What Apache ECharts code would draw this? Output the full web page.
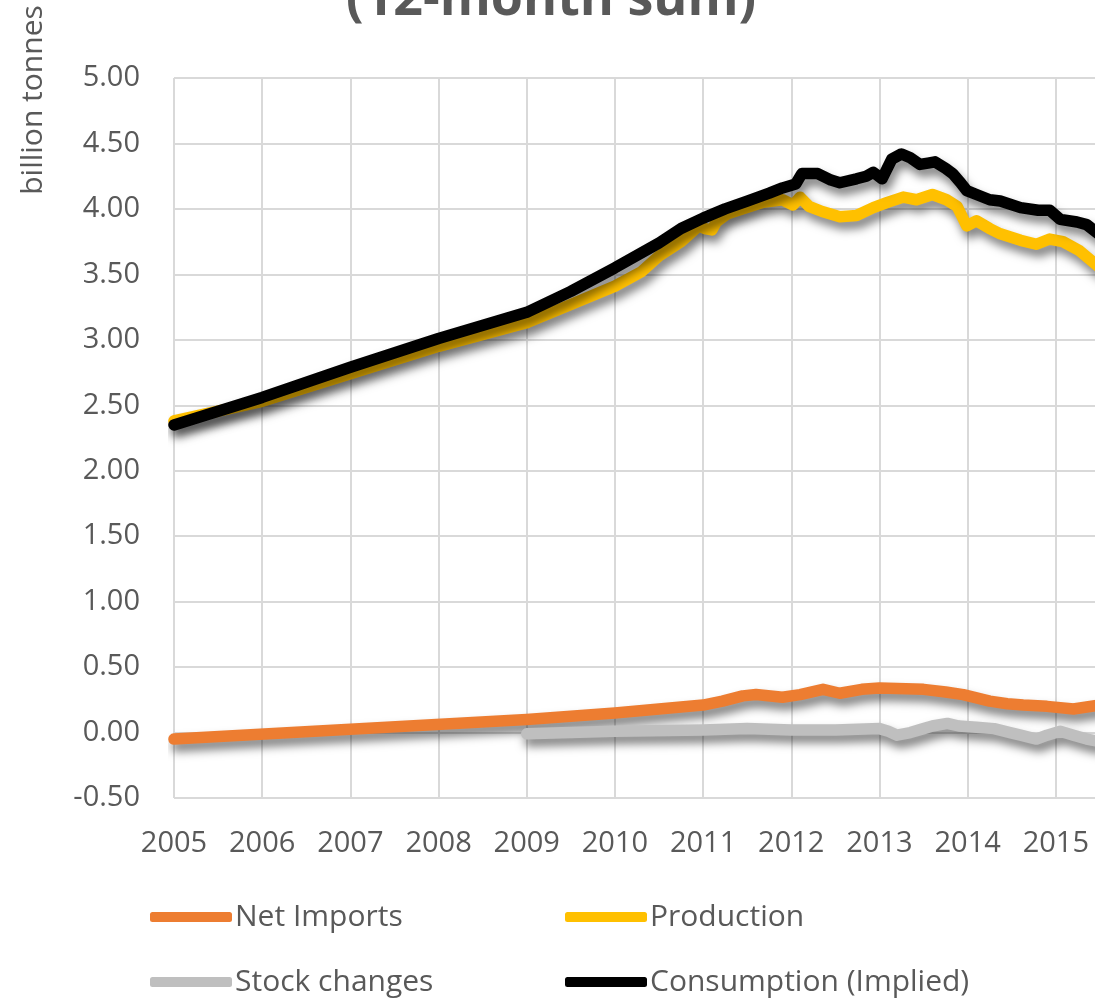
<!DOCTYPE html>
<html>
<head>
<meta charset="utf-8">
<script src="https://cdn.jsdelivr.net/npm/echarts@6/dist/echarts.min.js"></script>
<style>
  html, body { margin: 0; padding: 0; overflow: hidden; background: #fff; }
  #main { width: 1200px; height: 1000px; }
</style>
</head>
<body>
<div id="main"></div>
<script>
// 数据 (billion tonnes, 12-month sum)
var importsX = [2005, 2009, 2010, 2010.5, 2011, 2011.22, 2011.45, 2011.6, 2011.9, 2012.1, 2012.36, 2012.55, 2012.8, 2013, 2013.5, 2013.75, 2013.95, 2014.25, 2014.45, 2014.63, 2014.9, 2015.2, 2015.5];
var importsY = [-0.05, 0.10, 0.15, 0.18, 0.21, 0.24, 0.28, 0.29, 0.27, 0.29, 0.33, 0.30, 0.33, 0.34, 0.33, 0.31, 0.29, 0.24, 0.22, 0.21, 0.20, 0.18, 0.21];

var stockX = [2009, 2010, 2011, 2011.5, 2012, 2012.5, 2013, 2013.1, 2013.2, 2013.35, 2013.5, 2013.6, 2013.77, 2013.9, 2014.1, 2014.3, 2014.48, 2014.6, 2014.78, 2014.9, 2015.05, 2015.2, 2015.35, 2015.5];
var stockY = [-0.01, 0.01, 0.02, 0.03, 0.02, 0.02, 0.03, 0.01, -0.02, 0.0, 0.03, 0.05, 0.07, 0.05, 0.04, 0.03, 0.0, -0.02, -0.05, -0.02, 0.01, -0.02, -0.05, -0.07];

var prodX = [2005, 2006, 2007, 2008, 2009, 2009.5, 2010, 2010.3, 2010.5, 2010.75, 2010.95, 2011.02, 2011.1, 2011.15, 2011.27, 2011.45, 2011.68, 2011.9, 2012.02, 2012.1, 2012.2, 2012.35, 2012.55, 2012.74, 2012.93, 2013.09, 2013.27, 2013.42, 2013.6, 2013.76, 2013.88, 2013.99, 2014.1, 2014.25, 2014.37, 2014.6, 2014.78, 2014.93, 2015.08, 2015.27, 2015.5];
var prodY = [2.38, 2.53, 2.74, 2.95, 3.13, 3.27, 3.41, 3.52, 3.64, 3.75, 3.87, 3.85, 3.84, 3.90, 3.96, 4.00, 4.05, 4.07, 4.03, 4.09, 4.02, 3.98, 3.94, 3.95, 4.01, 4.05, 4.09, 4.07, 4.11, 4.07, 4.02, 3.87, 3.91, 3.85, 3.81, 3.76, 3.73, 3.77, 3.75, 3.68, 3.55];

var consX = [2005, 2006, 2007, 2008, 2009, 2009.5, 2010, 2010.5, 2010.75, 2011, 2011.25, 2011.5, 2011.75, 2011.9, 2012.05, 2012.12, 2012.3, 2012.45, 2012.55, 2012.74, 2012.85, 2012.93, 2013.03, 2013.14, 2013.25, 2013.35, 2013.46, 2013.55, 2013.63, 2013.75, 2013.83, 2013.92, 2013.99, 2014.1, 2014.25, 2014.37, 2014.6, 2014.8, 2014.93, 2015.05, 2015.24, 2015.35, 2015.5];
var consY = [2.35, 2.56, 2.79, 3.01, 3.21, 3.37, 3.55, 3.74, 3.85, 3.93, 4.00, 4.06, 4.12, 4.16, 4.19, 4.27, 4.27, 4.22, 4.20, 4.23, 4.25, 4.28, 4.23, 4.38, 4.42, 4.39, 4.34, 4.35, 4.36, 4.31, 4.27, 4.20, 4.14, 4.11, 4.07, 4.06, 4.01, 3.99, 3.99, 3.92, 3.90, 3.88, 3.80];

var yearTicks = [2005, 2006, 2007, 2008, 2009, 2010, 2011, 2012, 2013, 2014, 2015];

var fontFamily = '"Open Sans", "Noto Sans", sans-serif';
var textColor = '#595959';
var gridColor = '#d9d9d9';

function pairs(xs, ys) {
  return xs.map(function (x, i) { return [x, ys[i]]; });
}

function lineSeries(name, color, xs, ys) {
  return {
    name: name,
    type: 'line',
    data: pairs(xs, ys),
    showSymbol: false,
    symbol: 'none',
    smooth: false,
    lineStyle: {
      color: color,
      width: 11.5,
      cap: 'round',
      join: 'round',
      shadowColor: 'rgba(0,0,0,0.5)',
      shadowBlur: 10,
      shadowOffsetX: 3,
      shadowOffsetY: 7
    },
    itemStyle: { color: color },
    emphasis: { disabled: true }
  };
}

function legendItem(name, left, top) {
  return {
    data: [name],
    left: left,
    top: top,
    icon: 'roundRect',
    itemWidth: 82,
    itemHeight: 10,
    itemGap: 0,
    selectedMode: false,
    textStyle: { fontFamily: fontFamily, fontSize: 30, color: textColor, padding: [0, 0, 0, -2] }
  };
}

var myChart = echarts.init(document.getElementById('main'), null, { renderer: 'canvas' });

var option = {
  animation: false,
  backgroundColor: '#fff',
  grid: {
    left: 174,
    top: 78,
    width: 970,
    bottom: 202,
    outerBoundsMode: 'none',
    containLabel: false
  },
  xAxis: {
    type: 'value',
    min: 2005,
    max: 2016,
    interval: 1,
    axisLine: { show: false },
    axisTick: { show: false },
    splitLine: { show: true, lineStyle: { color: gridColor, width: 2 } },
    axisLabel: {
      margin: 31,
      fontFamily: fontFamily,
      fontSize: 29,
      color: textColor,
      formatter: function (v) { return yearTicks.indexOf(v) >= 0 ? String(v) : ''; }
    }
  },
  yAxis: {
    type: 'value',
    min: -0.5,
    max: 5,
    interval: 0.5,
    axisLine: { show: false },
    axisTick: { show: false },
    splitLine: { show: true, lineStyle: { color: gridColor, width: 2 } },
    axisLabel: {
      margin: 34,
      fontFamily: fontFamily,
      fontSize: 29,
      color: textColor,
      formatter: function (v) { return v.toFixed(2); }
    }
  },
  legend: [
    legendItem('Net Imports', 145, 897),
    legendItem('Production', 560, 897),
    legendItem('Stock changes', 145, 962),
    legendItem('Consumption (Implied)', 560, 962)
  ],
  graphic: [
    {
      type: 'text',
      x: 551,
      y: 26,
      style: {
        text: '(12-month sum)',
        font: 'bold 52px ' + fontFamily,
        fill: textColor,
        textAlign: 'center',
        textVerticalAlign: 'bottom'
      }
    },
    {
      type: 'text',
      x: 33,
      y: 100,
      rotation: Math.PI / 2,
      style: {
        text: 'billion tonnes',
        font: '30px ' + fontFamily,
        fill: textColor,
        textAlign: 'center',
        textVerticalAlign: 'middle'
      }
    }
  ],
  series: [
    lineSeries('Net Imports', '#ED7D31', importsX, importsY),
    lineSeries('Stock changes', '#BFBFBF', stockX, stockY),
    lineSeries('Production', '#FFC000', prodX, prodY),
    lineSeries('Consumption (Implied)', '#000000', consX, consY)
  ]
};

myChart.setOption(option);
</script>
</body>
</html>
